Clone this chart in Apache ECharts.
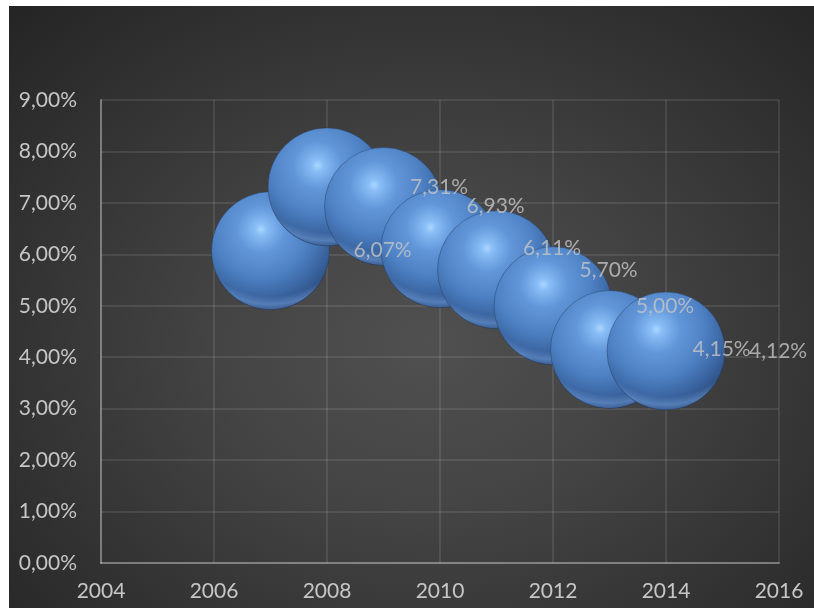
<!DOCTYPE html>
<html>
<head>
<meta charset="utf-8">
<script src="https://cdn.jsdelivr.net/npm/echarts@6/dist/echarts.min.js"></script>
<style>
  html, body { margin: 0; padding: 0; background: #ffffff; width: 814px; height: 608px; overflow: hidden; }
  #chart {
    position: absolute; left: 9px; top: 6px; width: 805px; height: 602px;
    background: radial-gradient(ellipse farthest-corner at 52% 56%, #505050 0%, #444444 35%, #353535 65%, #282828 92%, #242424 100%);
  }
</style>
</head>
<body>
<div id="chart"></div>
<script>
// Yearly rate values (percent)
const years = [2007, 2008, 2009, 2010, 2011, 2012, 2013, 2014];
const rates = [6.07, 7.31, 6.93, 6.11, 5.70, 5.00, 4.15, 4.12];

// Axis ranges
const xRange = { min: 2004, max: 2016, step: 2 };
const yRange = { min: 0, max: 9, step: 1 };

const BUBBLE_R = 59;
const FONT = 'Lato, "Open Sans", sans-serif';
const FONT_SIZE = 21;
const TEXT_COLOR = '#c6c6c6';

const fmtPct = v => v.toFixed(2).replace('.', ',') + '%';
const points = years.map((y, i) => [y, rates[i]]);

// Glossy sphere: off-centre highlight, dark right edge, light reflection along the bottom rim
const sphereFill = {
  type: 'radial', x: 0.42, y: 0.32, r: 0.72,
  colorStops: [
    { offset: 0.00, color: '#abd7ff' },
    { offset: 0.07, color: '#88bdf6' },
    { offset: 0.28, color: '#6196d9' },
    { offset: 0.55, color: '#4e82c5' },
    { offset: 0.78, color: '#3b66a2' },
    { offset: 1.00, color: '#2a4979' }
  ]
};
const rimFill = {
  type: 'radial', x: 0.5, y: 0.15, r: 0.85,
  colorStops: [
    { offset: 0.00, color: 'rgba(120,165,225,0)' },
    { offset: 0.87, color: 'rgba(120,165,225,0)' },
    { offset: 0.95, color: 'rgba(118,162,222,0.5)' },
    { offset: 1.00, color: 'rgba(100,140,200,0.3)' }
  ]
};

function renderSphere(params, api) {
  const c = api.coord([api.value(0), api.value(1)]);
  return {
    type: 'group',
    children: [
      { type: 'circle', shape: { cx: c[0], cy: c[1], r: BUBBLE_R },
        style: { fill: sphereFill, stroke: 'rgba(28,42,66,0.35)', lineWidth: 1 } },
      { type: 'circle', shape: { cx: c[0], cy: c[1], r: BUBBLE_R - 0.5 },
        style: { fill: rimFill } }
    ]
  };
}

const chart = echarts.init(document.getElementById('chart'), null, { renderer: 'canvas' });
chart.setOption({
  backgroundColor: 'transparent',
  animation: false,
  grid: { left: 92, right: 35, top: 94, bottom: 45 },
  xAxis: {
    type: 'value', min: xRange.min, max: xRange.max, interval: xRange.step,
    axisLine: { show: true, onZero: false, lineStyle: { color: 'rgba(255,255,255,0.3)', width: 2 } },
    axisTick: { show: false },
    splitLine: { show: true, lineStyle: { color: 'rgba(255,255,255,0.13)', width: 1.5 } },
    axisLabel: { color: TEXT_COLOR, fontFamily: FONT, fontSize: FONT_SIZE, margin: 18, formatter: v => String(v) }
  },
  yAxis: {
    type: 'value', min: yRange.min, max: yRange.max, interval: yRange.step,
    axisLine: { show: true, lineStyle: { color: 'rgba(255,255,255,0.3)', width: 2 } },
    axisTick: { show: false },
    splitLine: { show: true, lineStyle: { color: 'rgba(255,255,255,0.13)', width: 1.5 } },
    axisLabel: { color: TEXT_COLOR, fontFamily: FONT, fontSize: FONT_SIZE, margin: 24, formatter: fmtPct }
  },
  series: [
    {
      type: 'custom',
      renderItem: renderSphere,
      data: points,
      z: 2,
      silent: true
    },
    {
      type: 'scatter',
      data: points,
      symbolSize: BUBBLE_R * 2,
      itemStyle: { color: 'rgba(0,0,0,0)' },
      z: 5,
      silent: true,
      label: {
        show: true, position: 'right', distance: 24,
        color: TEXT_COLOR, fontFamily: FONT, fontSize: FONT_SIZE,
        formatter: p => fmtPct(p.value[1])
      }
    }
  ]
});
</script>
</body>
</html>
